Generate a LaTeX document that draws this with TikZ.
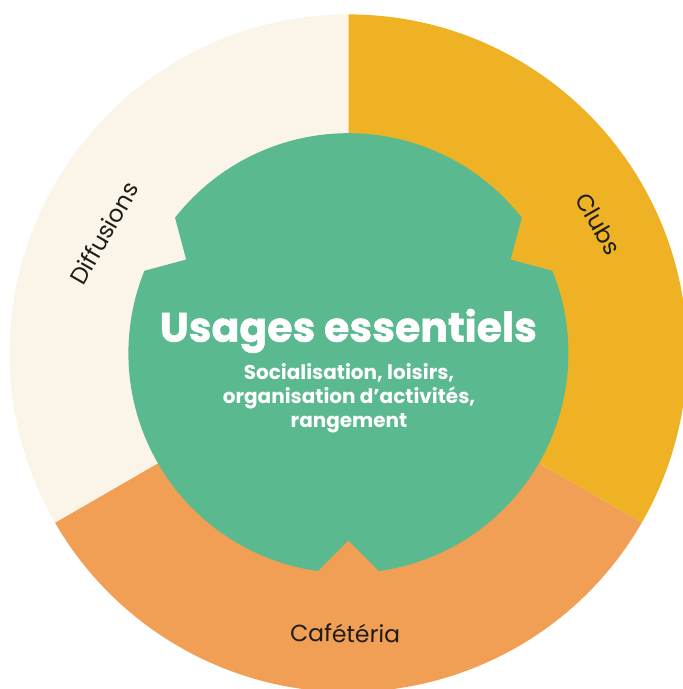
\documentclass[tikz,border=0pt]{standalone}
\usepackage{fontspec}
\setmainfont{Poppins}
\newfontfamily\heavyfont{Poppins}[BoldFeatures={FakeBold=1.2}]
\usetikzlibrary{calc}
\definecolor{cream}{HTML}{FBF5E9}
\definecolor{clubyellow}{HTML}{EEB224}
\definecolor{cafeorange}{HTML}{F09F55}
\definecolor{coregreen}{HTML}{5AB98F}
\definecolor{labeldark}{HTML}{1D1D1B}
\tikzset{
  sectorlabel/.style={text=labeldark, font=\fontsize{23.5}{28}\selectfont, inner sep=0pt},
  titletext/.style={text=white, font=\heavyfont\bfseries\fontsize{41}{48}\selectfont, inner sep=0pt, anchor=base},
  subtext/.style={text=white, font=\bfseries\fontsize{20}{24}\selectfont, inner sep=0pt, anchor=base},
}
\begin{document}
\begin{tikzpicture}[x=1pt,y=1pt]
\useasboundingbox (0,0) rectangle (683,689);
\clip (0,0) rectangle (683,689);
\coordinate (c) at (348.4,335.8);
\def\R{338.8}
\def\r{220}
\def\a{187.3}
% outer sectors
\fill[clubyellow] (c) -- ++(90:\R) arc[start angle=90, end angle=-30, radius=\R] -- cycle;
\fill[cafeorange] (c) -- ++(-30:\R) arc[start angle=-30, end angle=-150, radius=\R] -- cycle;
\fill[cream] (c) -- ++(210:\R) arc[start angle=210, end angle=90, radius=\R] -- cycle;
% central notched disc
\fill[coregreen] ($(c)+(278:\r)$) arc[start angle=-82, end angle=22, radius=\r]
  -- ($(c)+(30:\a)$) -- ($(c)+(38:\r)$)
  arc[start angle=38, end angle=142, radius=\r]
  -- ($(c)+(150:\a)$) -- ($(c)+(158:\r)$)
  arc[start angle=158, end angle=262, radius=\r]
  -- ($(c)+(270:\a)$) -- cycle;
% texts
\node[titletext] (title) at (348.4,347.3) {Usages essentiels};
\node[subtext] (sub1) at (349,309.7) {Socialisation, loisirs,};
\node[subtext] (sub2) at (349,285.7) {organisation d’activités,};
\node[subtext] (sub3) at (349,261.3) {rangement};
\node[sectorlabel, rotate=60] (diff) at (104,456) {Diffusions};
\node[sectorlabel, rotate=-60] (clubs) at (598.5,465) {Clubs};
\node[sectorlabel, rotate=-1, anchor=base] (cafe) at (345,46.7) {Cafétéria};
\end{tikzpicture}
\end{document}
